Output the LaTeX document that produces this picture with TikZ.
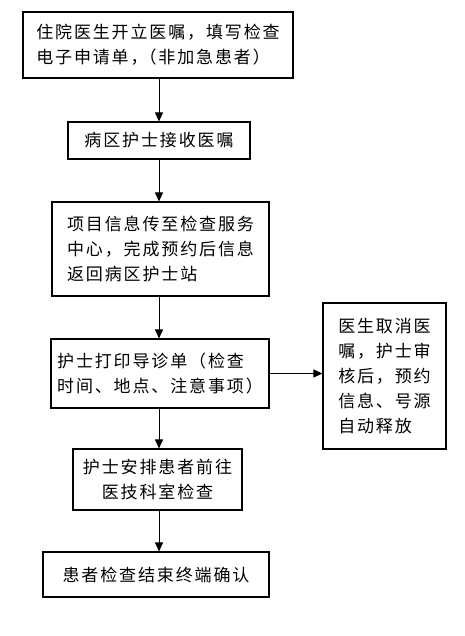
\documentclass[tikz,border=0pt]{standalone}
\usepackage{fontspec}
\newfontfamily\cjk[LetterSpace=11]{Noto Sans CJK SC}
\usetikzlibrary{arrows.meta}
\tikzset{
  box/.style={draw, line width=1.1pt, inner sep=0pt, font=\cjk\fontsize{17}{25}\selectfont},
  arr/.style={line width=0.9pt, -{Triangle[length=9pt,width=8pt]}}
}
\begin{document}
\begin{tikzpicture}[x=1pt,y=-1pt]
\useasboundingbox (0,0) rectangle (464,636);
\fill[white] (0,0) rectangle (464,636);
\coordinate (ax) at (159,0);
\node[box, minimum width=270pt, minimum height=66pt, align=left] (b1) at (158,45)
  {住院医生开立医嘱，填写检查\\电子申请单，\kern-8pt（非加急患者）};
\node[box, minimum width=182pt, minimum height=37pt, align=center] (b2) at (159,140.5)
  {病区护士接收医嘱};
\node[box, minimum width=217pt, minimum height=94pt, align=left] (b3) at (160.5,249)
  {项目信息传至检查服务\\中心，完成预约后信息\\返回病区护士站};
\node[box, minimum width=218pt, minimum height=69pt, align=left] (b4) at (160,373.5)
  {护士打印导诊单（检查\\时间、地点、注意事项）};
\node[box, minimum width=123pt, minimum height=146pt, align=left] (b5) at (384.5,376)
  {医生取消医\\嘱，护士审\\核后，预约\\信息、号源\\自动释放};
\node[box, minimum width=169pt, minimum height=61pt, align=center] (b6) at (157.5,479.5)
  {护士安排患者前往\\医技科室检查};
\node[box, minimum width=226pt, minimum height=45pt, align=center] (b7) at (156,574.5)
  {患者检查结束终端确认};
\draw[arr] (b1.south -| ax) -- (b2.north -| ax);
\draw[arr] (b2.south -| ax) -- (b3.north -| ax);
\draw[arr] (b3.south -| ax) -- (b4.north -| ax);
\draw[arr] (b4.south -| ax) -- (b6.north -| ax);
\draw[arr] (b6.south -| ax) -- (b7.north -| ax);
\draw[arr] (b4.east) -- (b5.west |- b4.east);
\end{tikzpicture}
\end{document}
